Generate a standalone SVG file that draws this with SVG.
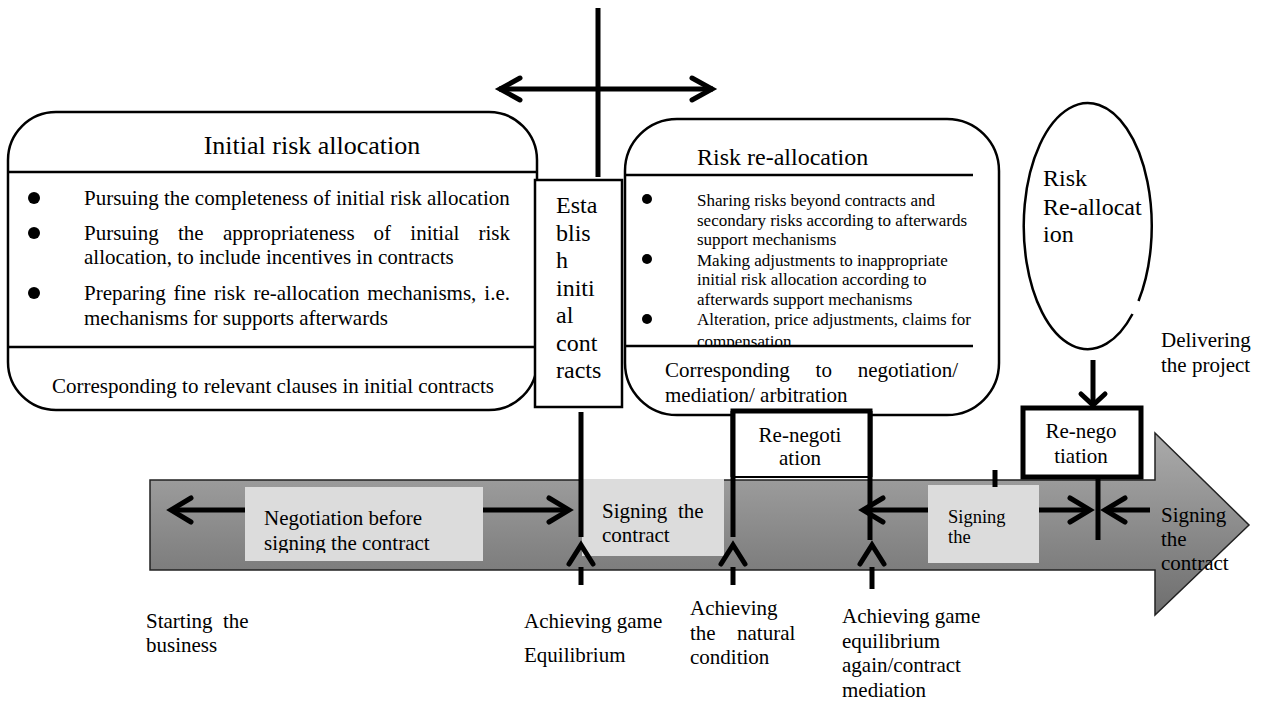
<svg xmlns="http://www.w3.org/2000/svg" width="1261" height="704" viewBox="0 0 1261 704">
  <style>
    .t { font-family: "Liberation Serif", "Times New Roman", serif; fill: #000; }
    .f26 { font-size: 26px; }
    .f24 { font-size: 24px; }
    .f21 { font-size: 21px; }
    .f18 { font-size: 18.5px; }
    .f17 { font-size: 17px; }
    .mid { text-anchor: middle; }
    .thick { stroke: #000; stroke-width: 5; fill: none; }
    .chev { stroke: #000; stroke-width: 5; fill: none; stroke-linecap: round; stroke-linejoin: miter; }
    .frame { fill: #fff; stroke: #000; stroke-width: 2.5; }
    .rule { stroke: #000; stroke-width: 2.5; }
    .light { fill: #dcdcdc; }
    .renego { fill: #fff; stroke: #000; stroke-width: 5; }
  </style>
  <defs>
    <linearGradient id="timelineFill" gradientUnits="userSpaceOnUse" x1="0" y1="433" x2="0" y2="615">
      <stop offset="0" stop-color="#ababab"/>
      <stop offset="1" stop-color="#6e6e6e"/>
    </linearGradient>
    <clipPath id="clipNegotiation">
      <rect x="245" y="487" width="238" height="66"/>
    </clipPath>
    <clipPath id="clipReallocBullets">
      <rect x="630" y="176" width="360" height="169"/>
    </clipPath>
  </defs>

  <!-- timeline arrow -->
  <g id="timeline">
    <path d="M150,480 H1155 V433 L1249,525 L1155,615 V570 H150 Z" fill="url(#timelineFill)" stroke="#222" stroke-width="1.5"/>
  </g>

  <!-- initial risk allocation panel -->
  <g id="initial-risk-allocation">
    <rect class="frame" x="8" y="112" width="529" height="298" rx="48" ry="48"/>
    <line class="rule" x1="8" y1="172" x2="537" y2="172"/>
    <line class="rule" x1="8" y1="347" x2="537" y2="347"/>
    <text class="t f26 mid" x="312" y="154">Initial risk allocation</text>
    <circle cx="34" cy="198" r="6"/>
    <circle cx="34" cy="233" r="6"/>
    <circle cx="34" cy="293" r="6"/>
    <text class="t f21" x="84" y="205">Pursuing the completeness of initial risk allocation</text>
    <text class="t f21" y="240"><tspan x="84">Pursuing</tspan><tspan x="178">the</tspan><tspan x="222.9">appropriateness</tspan><tspan x="373.5">of</tspan><tspan x="410.3">initial</tspan><tspan x="478.5">risk</tspan></text>
    <text class="t f21" x="84" y="264">allocation, to include incentives in contracts</text>
    <text class="t f21" y="300"><tspan x="84">Preparing</tspan><tspan x="173.5">fine</tspan><tspan x="214">risk</tspan><tspan x="253.4">re-allocation</tspan><tspan x="367.3">mechanisms,</tspan><tspan x="484.3">i.e.</tspan></text>
    <text class="t f21" x="84" y="325">mechanisms for supports afterwards</text>
    <text class="t f21" x="52" y="393">Corresponding to relevant clauses in initial contracts</text>
  </g>

  <!-- establish initial contracts -->
  <g id="establish-contracts">
    <rect class="frame" x="535" y="180" width="87" height="227"/>
    <text class="t f24" x="556">
      <tspan x="556" y="213">Esta</tspan>
      <tspan x="556" y="240.5">blis</tspan>
      <tspan x="556" y="268">h</tspan>
      <tspan x="556" y="295.5">initi</tspan>
      <tspan x="556" y="323">al</tspan>
      <tspan x="556" y="350.5">cont</tspan>
      <tspan x="556" y="378">racts</tspan>
    </text>
  </g>

  <!-- risk re-allocation panel -->
  <g id="risk-reallocation">
    <rect class="frame" x="625" y="119" width="374" height="296" rx="52" ry="52"/>
    <text class="t f24" x="697" y="165">Risk re-allocation</text>
    <line class="rule" x1="625" y1="175" x2="973" y2="175"/>
    <circle cx="647" cy="199" r="5"/>
    <circle cx="647" cy="259" r="5"/>
    <circle cx="647" cy="319" r="5"/>
    <g clip-path="url(#clipReallocBullets)">
      <text class="t f17" x="697" y="206">Sharing risks beyond contracts and</text>
      <text class="t f17" x="697" y="226">secondary risks according to afterwards</text>
      <text class="t f17" x="697" y="245">support mechanisms</text>
      <text class="t f17" x="697" y="266">Making adjustments to inappropriate</text>
      <text class="t f17" x="697" y="285">initial risk allocation according to</text>
      <text class="t f17" x="697" y="305">afterwards support mechanisms</text>
      <text class="t f17" x="697" y="325">Alteration, price adjustments, claims for</text>
      <text class="t f17" x="697" y="347">compensation.</text>
    </g>
    <line class="rule" x1="625" y1="346" x2="973" y2="346"/>
    <text class="t f21" y="377"><tspan x="665">Corresponding</tspan><tspan x="815.6">to</tspan><tspan x="857.7">negotiation/</tspan></text>
    <text class="t f21" x="665" y="402">mediation/ arbitration</text>
  </g>

  <!-- risk re-allocation ellipse -->
  <g id="risk-reallocation-oval">
    <path d="M1138.5,301 A64,123 0 1 0 1132.5,314" fill="none" stroke="#000" stroke-width="2.5"/>
    <text class="t f24" x="1043">
      <tspan x="1043" y="186">Risk</tspan>
      <tspan x="1043" y="215">Re-allocat</tspan>
      <tspan x="1043" y="242">ion</tspan>
    </text>
  </g>

  <g id="delivering-label">
    <text class="t f21" x="1161" y="347">Delivering</text>
    <text class="t f21" x="1161" y="372">the project</text>
  </g>

  <!-- shaded phase labels on the timeline -->
  <g id="negotiation-phase">
    <rect class="light" x="245" y="487" width="238" height="74"/>
    <g clip-path="url(#clipNegotiation)">
      <text class="t f21" x="264" y="525">Negotiation before</text>
      <text class="t f21" x="264" y="550">signing the contract</text>
    </g>
  </g>

  <g id="signing-phase-1">
    <rect class="light" x="582" y="479" width="142" height="77"/>
    <text class="t f21" y="518"><tspan x="602">Signing</tspan><tspan x="678">the</tspan></text>
    <text class="t f21" x="602" y="542">contract</text>
  </g>

  <g id="signing-phase-2">
    <rect class="light" x="928" y="485" width="111" height="78"/>
    <text class="t f18" x="948" y="523">Signing</text>
    <text class="t f18" x="948" y="543">the</text>
  </g>

  <g id="signing-phase-3">
    <text class="t f21" x="1161" y="522">Signing</text>
    <text class="t f21" x="1161" y="546">the</text>
    <text class="t f21" x="1161" y="570">contract</text>
  </g>

  <!-- connectors -->
  <g id="connectors">
    <!-- top cross -->
    <line class="thick" x1="598" y1="8" x2="598" y2="177"/>
    <line class="thick" x1="499" y1="89" x2="713" y2="89"/>
    <polyline class="chev" points="520,78 500,89 520,100"/>
    <polyline class="chev" points="692,78 712,89 692,100"/>

    <!-- negotiation span -->
    <line class="thick" x1="171" y1="510" x2="245" y2="510"/>
    <polyline class="chev" points="191,498 171,510 191,522"/>
    <line class="thick" x1="483" y1="510" x2="569" y2="510"/>
    <polyline class="chev" points="549,498 569,510 549,522"/>

    <!-- establish contract marker -->
    <line class="thick" x1="581" y1="412" x2="581" y2="537"/>

    <!-- renegotiation span -->
    <line class="thick" x1="863" y1="510" x2="928" y2="510"/>
    <polyline class="chev" points="883,498 863,510 883,522"/>
    <line class="thick" x1="870" y1="411" x2="870" y2="540"/>
    <line class="thick" x1="733" y1="411" x2="733" y2="537"/>

    <!-- later signing span -->
    <line class="thick" x1="995" y1="470" x2="995" y2="487"/>
    <line class="thick" x1="1039" y1="510" x2="1090" y2="510"/>
    <polyline class="chev" points="1070,498 1090,510 1070,522"/>
    <line class="thick" x1="1098" y1="472" x2="1098" y2="540"/>
    <line class="thick" x1="1105" y1="510" x2="1150" y2="510"/>
    <polyline class="chev" points="1125,498 1105,510 1125,522"/>

    <!-- oval down to renegotiation -->
    <line class="thick" x1="1093" y1="360" x2="1093" y2="404"/>
    <polyline class="chev" points="1081,394 1093,405 1105,394"/>

    <!-- upward milestone arrows -->
    <line class="thick" x1="581" y1="567" x2="581" y2="585"/>
    <polyline class="chev" points="569,564 581,545 593,564"/>
    <line class="thick" x1="733" y1="567" x2="733" y2="585"/>
    <polyline class="chev" points="721,564 733,545 745,564"/>
    <line class="thick" x1="872" y1="567" x2="872" y2="589"/>
    <polyline class="chev" points="860,564 872,545 884,564"/>
  </g>

  <!-- renegotiation boxes -->
  <g id="renegotiation-1">
    <path d="M733,477 V411 H870 V477" fill="#fff" stroke="#000" stroke-width="5"/>
    <line x1="733" y1="477" x2="870" y2="477" stroke="#000" stroke-width="2"/>
    <text class="t f21 mid" x="800" y="442">Re-negoti</text>
    <text class="t f21 mid" x="800" y="465">ation</text>
  </g>

  <g id="renegotiation-2">
    <rect class="renego" x="1023" y="408" width="118" height="69"/>
    <text class="t f21 mid" x="1081" y="438">Re-nego</text>
    <text class="t f21 mid" x="1081" y="463">tiation</text>
  </g>

  <!-- milestone labels -->
  <g id="label-start">
    <text class="t f21" y="628"><tspan x="146">Starting</tspan><tspan x="223">the</tspan></text>
    <text class="t f21" x="146" y="652">business</text>
  </g>
  <g id="label-equilibrium">
    <text class="t f21" x="524" y="628">Achieving game</text>
    <text class="t f21" x="524" y="662">Equilibrium</text>
  </g>
  <g id="label-natural">
    <text class="t f21" x="690" y="615">Achieving</text>
    <text class="t f21" y="640"><tspan x="690">the</tspan><tspan x="737">natural</tspan></text>
    <text class="t f21" x="690" y="664">condition</text>
  </g>
  <g id="label-mediation">
    <text class="t f21" x="842" y="623">Achieving game</text>
    <text class="t f21" x="842" y="648">equilibrium</text>
    <text class="t f21" x="842" y="672">again/contract</text>
    <text class="t f21" x="842" y="697">mediation</text>
  </g>
</svg>
